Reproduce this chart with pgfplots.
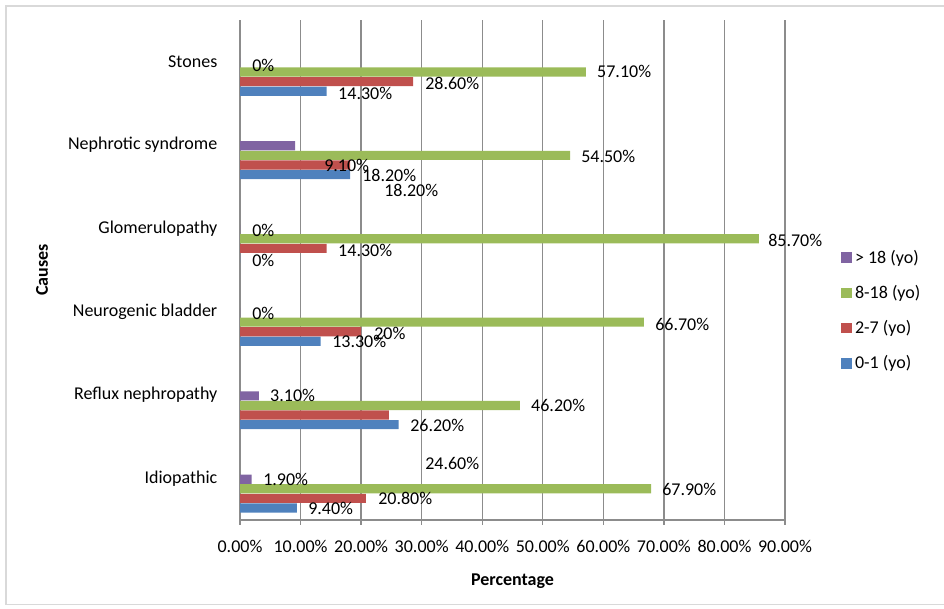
\documentclass[border=0pt]{standalone}
\usepackage{fontspec}
\setmainfont{Carlito}
\usepackage{pgfplots}
\pgfplotsset{compat=1.18}

\definecolor{age01}{HTML}{4F81BD}
\definecolor{age27}{HTML}{C0504D}
\definecolor{age818}{HTML}{9BBB59}
\definecolor{age18}{HTML}{8064A2}
\definecolor{axgray}{HTML}{8C8C8C}
\newcommand\cf{\fontsize{13.5pt}{16pt}\selectfont}

\begin{document}
\begin{tikzpicture}
\useasboundingbox (0,0) rectangle (708pt,-456.75pt);
\draw[color=black!15, line width=1.1pt] (4.5pt,-4.5pt) rectangle (720pt,-453.5pt);
\begin{axis}[
  at={(180pt,-390pt)}, anchor=south west,
  scale only axis, width=408.75pt, height=375pt,
  xmin=0, xmax=90, ymin=-0.5, ymax=5.5,
  axis lines*=left,
  axis line style={color=axgray, line width=1pt},
  xmajorgrids,
  grid style={color=axgray, line width=1pt},
  major tick length=3.5pt,
  tick align=outside,
  xtick={0,10,...,90},
  xticklabels={0.00\%,10.00\%,20.00\%,30.00\%,40.00\%,50.00\%,60.00\%,70.00\%,80.00\%,90.00\%},
  x tick style={color=axgray, line width=1pt},
  xticklabel style={font=\cf, yshift=-8pt},
  ytick={0,...,5},
  yticklabels={Idiopathic,Reflux nephropathy,Neurogenic bladder,Glomerulopathy,Nephrotic syndrome,Stones},
  y tick style={draw=none},
  yticklabel style={font=\cf, xshift=-10pt},
  extra y ticks={-0.5,0.5,1.5,2.5,3.5,4.5,5.5},
  extra y tick labels={},
  extra y tick style={tick style={draw=axgray, line width=1pt}},
  xlabel={\bfseries Percentage},
  ylabel={\bfseries Causes},
  xlabel style={font=\cf, at={(axis description cs:0.5,-0.122)}, anchor=center},
  ylabel style={font=\cf, at={(axis description cs:-0.363,0.5)}, anchor=center},
  reverse legend,
  legend style={at={(1.103,0.419)}, anchor=west, draw=none, fill=none,
    font=\cf, inner sep=0pt, row sep=11pt, cells={anchor=west}},
  legend image code/.code={\draw[#1,draw=none] (0pt,-4pt) rectangle (8.25pt,4pt);},
  clip=false,
]
\addplot[xbar, fill=age01, draw=none, bar width=0.11, bar shift=-0.355]
  coordinates {(9.4,0) (26.2,1) (13.3,2) (0,3) (18.2,4) (14.3,5)};
\addlegendentry{0-1 (yo)}
\addplot[xbar, fill=age27, draw=none, bar width=0.11, bar shift=-0.24]
  coordinates {(20.8,0) (24.6,1) (20,2) (14.3,3) (18.2,4) (28.6,5)};
\addlegendentry{2-7 (yo)}
\addplot[xbar, fill=age818, draw=none, bar width=0.11, bar shift=-0.125]
  coordinates {(67.9,0) (46.2,1) (66.7,2) (85.7,3) (54.5,4) (57.1,5)};
\addlegendentry{8-18 (yo)}
\addplot[xbar, fill=age18, draw=none, bar width=0.11, bar shift=-0.01]
  coordinates {(1.9,0) (3.1,1) (0,2) (0,3) (9.1,4) (0,5)};
\addlegendentry{> 18 (yo)}

% data labels, placed where the original chart has them
\begin{scope}[every node/.style={anchor=west, font=\cf, inner sep=0pt}]
\node at (axis cs:1.98,4.96) {0\%};
\node at (axis cs:58.95,4.88) {57.10\%};
\node at (axis cs:30.55,4.74) {28.60\%};
\node at (axis cs:16.18,4.62) {14.30\%};
\node at (axis cs:56.31,3.86) {54.50\%};
\node at (axis cs:13.87,3.75) {9.10\%};
\node at (axis cs:20.15,3.63) {18.20\%};
\node at (axis cs:23.78,3.45) {18.20\%};
\node at (axis cs:1.98,2.97) {0\%};
\node at (axis cs:87.19,2.85) {85.70\%};
\node at (axis cs:16.18,2.74) {14.30\%};
\node at (axis cs:1.98,2.62) {0\%};
\node at (axis cs:1.98,1.98) {0\%};
\node at (axis cs:68.53,1.85) {66.70\%};
\node at (axis cs:22.13,1.74) {20\%};
\node at (axis cs:15.19,1.64) {13.30\%};
\node at (axis cs:4.95,0.99) {3.10\%};
\node at (axis cs:48.05,0.87) {46.20\%};
\node at (axis cs:28.07,0.64) {26.20\%};
\node at (axis cs:30.55,0.18) {24.60\%};
\node at (axis cs:3.80,-0.01) {1.90\%};
\node at (axis cs:69.69,-0.13) {67.90\%};
\node at (axis cs:22.79,-0.24) {20.80\%};
\node at (axis cs:11.23,-0.36) {9.40\%};
\end{scope}
\end{axis}
\end{tikzpicture}
\end{document}
